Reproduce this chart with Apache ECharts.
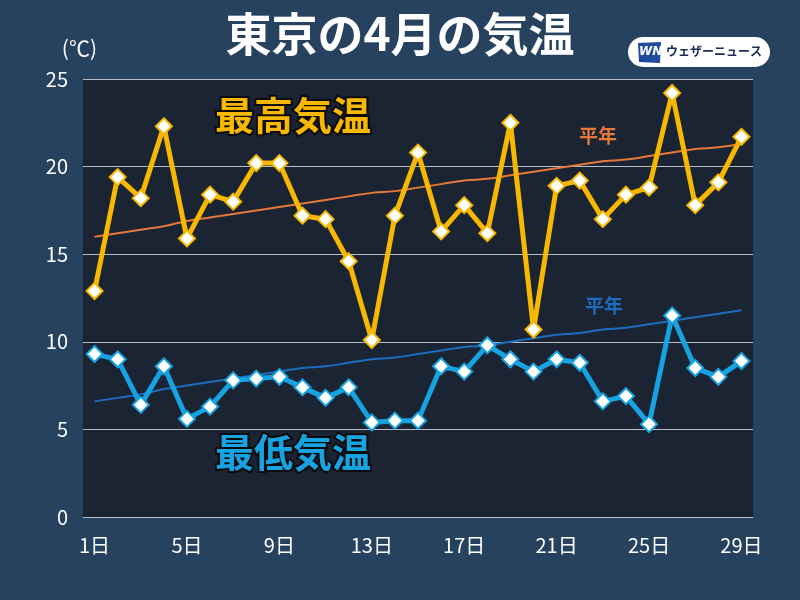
<!DOCTYPE html>
<html>
<head>
<meta charset="utf-8">
<script src="https://cdn.jsdelivr.net/npm/echarts@6/dist/echarts.min.js"></script>
<style>
  html, body { margin: 0; padding: 0; background: #27425f; }
  #chart { width: 800px; height: 600px; }
</style>
</head>
<body>
<div id="chart"></div>
<script>
// 日付
const days = ['1日','2日','3日','4日','5日','6日','7日','8日','9日','10日','11日','12日','13日','14日','15日',
  '16日','17日','18日','19日','20日','21日','22日','23日','24日','25日','26日','27日','28日','29日'];

// 最高気温
const maxTemp = [12.9,19.4,18.2,22.3,15.9,18.4,18.0,20.2,20.2,17.2,17.0,14.6,10.1,17.2,20.8,
  16.3,17.8,16.2,22.5,10.7,18.9,19.2,17.0,18.4,18.8,24.2,17.8,19.1,21.7];

// 最低気温
const minTemp = [9.3,9.0,6.4,8.6,5.6,6.3,7.8,7.9,8.0,7.4,6.8,7.4,5.4,5.5,5.5,
  8.6,8.3,9.8,9.0,8.3,9.0,8.8,6.6,6.9,5.3,11.5,8.5,8.0,8.9];

// 平年値
const maxNormal = [16.0,16.2,16.4,16.6,16.9,17.1,17.3,17.5,17.7,17.9,18.1,18.3,18.5,18.6,18.8,
  19.0,19.2,19.3,19.5,19.7,19.9,20.1,20.3,20.4,20.6,20.8,21.0,21.1,21.3];
const minNormal = [6.6,6.8,7.0,7.3,7.5,7.7,7.9,8.1,8.3,8.5,8.6,8.8,9.0,9.1,9.3,
  9.5,9.7,9.8,10.0,10.2,10.4,10.5,10.7,10.8,11.0,11.2,11.4,11.6,11.8];

let setChart = function(ele, options) {
  let myChart = echarts.init(ele, null, { renderer: 'canvas' })
  myChart.setOption(options)
  return myChart
}

const FONT = '"Noto Sans CJK JP", "Noto Sans", sans-serif'

let options = {
  backgroundColor: '#27425f',
  animation: false,
  grid: {
    left: 83, right: 47, top: 79, bottom: 83,
    show: true, backgroundColor: '#1a2433', borderWidth: 0
  },
  title: {
    text: '東京の4月の気温',
    left: 'center', top: 6,
    textStyle: { color: '#fff', fontSize: 46, fontWeight: 'bold', fontFamily: FONT }
  },
  xAxis: {
    type: 'category',
    data: days,
    boundaryGap: true,
    axisLine: { show: true, lineStyle: { color: '#b8bec6', width: 1 } },
    axisTick: { show: false },
    axisLabel: { interval: 3, color: '#fff', fontSize: 20, fontFamily: FONT, margin: 18 }
  },
  yAxis: {
    type: 'value',
    min: 0, max: 25, interval: 5,
    name: '(℃)',
    nameLocation: 'end',
    nameGap: 20,
    nameTextStyle: { color: '#fff', fontSize: 21, fontFamily: FONT, align: 'right', padding: [0, -14, 0, 0] },
    axisLine: { show: false },
    axisTick: { show: false },
    axisLabel: { color: '#fff', fontSize: 20, fontFamily: FONT, margin: 15 },
    splitLine: { lineStyle: { color: '#b8bec6', width: 1 } }
  },
  series: [
    {
      name: '平年(最高)', type: 'line', data: maxNormal, smooth: true,
      symbol: 'none', lineStyle: { color: '#e8773a', width: 2 }, z: 2
    },
    {
      name: '平年(最低)', type: 'line', data: minNormal, smooth: true,
      symbol: 'none', lineStyle: { color: '#1e6cc0', width: 2 }, z: 2
    },
    {
      name: '最高気温', type: 'line', data: maxTemp,
      symbol: 'diamond', symbolSize: 16, showAllSymbol: true,
      lineStyle: { color: '#f8b800', width: 5 },
      itemStyle: { color: '#fff', borderColor: '#f8b800', borderWidth: 2 },
      z: 3
    },
    {
      name: '最低気温', type: 'line', data: minTemp,
      symbol: 'diamond', symbolSize: 16, showAllSymbol: true,
      lineStyle: { color: '#17a3e2', width: 5 },
      itemStyle: { color: '#fff', borderColor: '#17a3e2', borderWidth: 2 },
      z: 3
    }
  ],
  graphic: [
    {
      type: 'text', left: 213, top: 94, z: 10,
      style: { text: '最高気温', fill: '#f8b800', stroke: '#0b0b0b', lineWidth: 4,
        font: 'bold 39px ' + FONT }
    },
    {
      type: 'text', left: 213, top: 431, z: 10,
      style: { text: '最低気温', fill: '#17a3e2', stroke: '#0b0b0b', lineWidth: 4,
        font: 'bold 39px ' + FONT }
    },
    {
      type: 'text', left: 579, top: 126, z: 10,
      style: { text: '平年', fill: '#e8773a', font: 'bold 19px ' + FONT }
    },
    {
      type: 'text', left: 585, top: 296, z: 10,
      style: { text: '平年', fill: '#1e6cc0', font: 'bold 19px ' + FONT }
    },
    // ロゴ
    {
      type: 'group', left: 628, top: 37, z: 10,
      children: [
        { type: 'rect', shape: { x: 0, y: 0, width: 142, height: 30, r: 15 },
          style: { fill: '#fff' } },
        { type: 'polygon', shape: { points: [[10, 6], [33, 5], [32, 26], [11, 25]] },
          style: { fill: '#1f4aa0' } },
        { type: 'text', x: 11, y: 9,
          style: { text: 'WN', fill: '#fff', font: 'italic bold 12px "DejaVu Sans", sans-serif' } },
        { type: 'text', x: 38, y: 8,
          style: { text: 'ウェザーニュース', fill: '#1b2b55', font: 'bold 12px ' + FONT } }
      ]
    }
  ]
}

setChart(document.getElementById('chart'), options)
</script>
</body>
</html>
